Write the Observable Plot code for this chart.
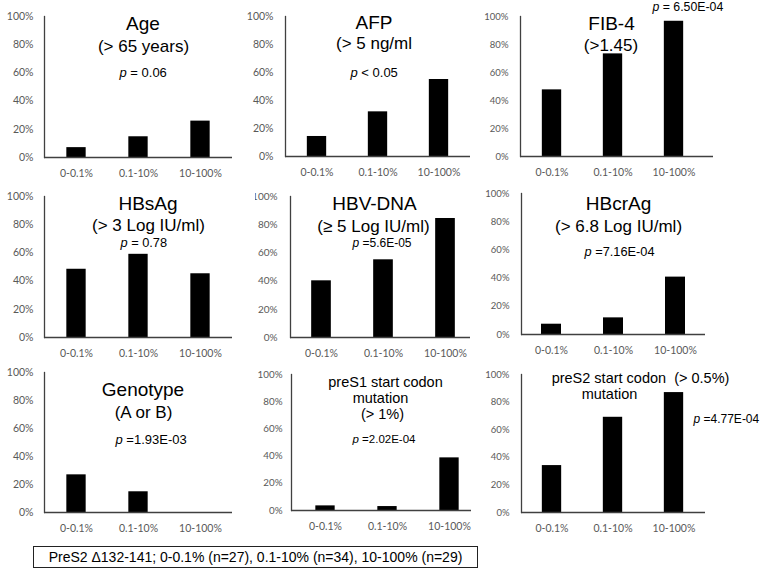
<!DOCTYPE html>
<html><head><meta charset="utf-8">
<script src="https://cdn.jsdelivr.net/npm/d3@7"></script>
<script src="https://cdn.jsdelivr.net/npm/@observablehq/plot@0.6"></script>
<style>
html,body{margin:0;padding:0;background:#fff;}
#root{position:relative;width:765px;height:573px;overflow:hidden;background:#fff;}
#root svg{position:absolute;}
#caption{position:absolute;left:33px;top:546px;width:445px;height:22px;box-sizing:border-box;border:1px solid #222;font:14px "Liberation Sans",Arial,sans-serif;color:#000;display:flex;align-items:center;justify-content:center;white-space:nowrap;}
</style></head><body><div id="root"></div>
<script>
// ---- data ----
const categories = ["0-0.1%", "0.1-10%", "10-100%"];
const yTicks = [0, 0.2, 0.4, 0.6, 0.8, 1];

const ageValues = [0.07, 0.147, 0.258];
const afpValues = [0.143, 0.319, 0.55];
const fib4Values = [0.476, 0.733, 0.966];
const hbsagValues = [0.484, 0.59, 0.452];
const hbvdnaValues = [0.402, 0.551, 0.844];
const hbcragValues = [0.073, 0.118, 0.407];
const genotypeValues = [0.269, 0.148, 0];
const preS1Values = [0.034, 0.029, 0.387];
const preS2Values = [0.34, 0.69, 0.869];

const panelTitles = [
  ["Age", "(> 65 years)"],
  ["AFP", "(> 5 ng/ml"],
  ["FIB-4", "(>1.45)"],
  ["HBsAg", "(> 3 Log IU/ml)"],
  ["HBV-DNA", "(\u2265 5 Log IU/ml)"],
  ["HBcrAg", "(> 6.8 Log IU/ml)"],
  ["Genotype", "(A or B)"],
  ["preS1 start codon", "mutation", "(> 1%)"],
  ["preS2 start codon  (> 0.5%)", "mutation"]
];
const pLabels = ["= 0.06", "< 0.05", "= 6.50E-04", "= 0.78", "=5.6E-05", "=7.16E-04", "=1.93E-03", "=2.02E-04", "=4.77E-04"];
const captionText = "PreS2 \u0394132-141; 0-0.1% (n=27), 0.1-10% (n=34), 10-100% (n=29)";

const panelValues = [ageValues, afpValues, fib4Values, hbsagValues, hbvdnaValues, hbcragValues, genotypeValues, preS1Values, preS2Values];

// ---- layout (pixel geometry of each pasted panel) ----
const layout = [
  {left:0,   top:0,   width:240, height:182, x0:44,  x1:232, bx:[44,232],  yTop:16,  yBot:157, yFont:10.5, yPad:11, lines:[[142.5,23,19],[143,46,17]], p:[119,72,13]},
  {left:240, top:0,   width:245, height:182, x0:285, x1:470, bx:[285,470], yTop:16,  yBot:156, yFont:10.5, yPad:12, lines:[[373.5,22,19],[373.5,43,17]], p:[350,72,13]},
  {left:478, top:0,   width:287, height:182, x0:520, x1:713, bx:[520,705], yTop:16,  yBot:156, yFont:9.5,  yPad:12, lines:[[611,23,19],[610.5,45,17]], p:[652,7,12.3]},
  {left:0,   top:182, width:240, height:180, x0:44,  x1:232, bx:[44,232],  yTop:196, yBot:337, yFont:10.5, yPad:11, lines:[[147.5,203,19],[148,225,17]], p:[120,242,12.8]},
  {left:255, top:182, width:230, height:180, x0:290, x1:470, bx:[289,476], yTop:196, yBot:337, yFont:10,   yPad:13, lines:[[374,203,19],[373,226,17]], p:[352,243,12]},
  {left:478, top:182, width:287, height:180, x0:521, x1:705, bx:[520,706], yTop:193, yBot:334, yFont:9.5,  yPad:12, lines:[[618,203,19],[618,226,17]], p:[584,251,12.8]},
  {left:0,   top:362, width:240, height:178, x0:44,  x1:232, bx:[44,232],  yTop:372, yBot:512, yFont:10.5, yPad:11, lines:[[142.5,389,19],[143,412,17]], p:[115,439,13]},
  {left:245, top:362, width:240, height:178, x0:291, x1:471, bx:[293,481], yTop:374, yBot:510, yFont:9.8,  yPad:9,  lines:[[385,382,14.5],[380,398,14.5],[382,414,14.5]], p:[352,439,11.5]},
  {left:478, top:362, width:287, height:178, x0:521, x1:705, bx:[520,705], yTop:374, yBot:512, yFont:9.5,  yPad:12, lines:[[640,378,14.5],[609,394,14.5]], p:[693,419,12]}
];

const titleFont = '"Liberation Sans", Arial, sans-serif';
const tickFont = 'Lato, "Open Sans", sans-serif';
const axisColor = "#404040";
const tickColor = "#595959";

const ctx = document.createElement("canvas").getContext("2d");
function textWidth(s, font) { ctx.font = font; return ctx.measureText(s).width; }

const root = document.getElementById("root");

panelValues.forEach((values, i) => {
  const L = layout[i];
  const mL = L.x0 - L.left, mR = L.left + L.width - L.x1;
  const mT = L.yTop - L.top, mB = L.top + L.height - L.yBot;
  const bw = (L.bx[1] - L.bx[0]) / categories.length;
  const inset = (bw - 20) / 2;
  const rows = categories.map((c, j) => ({category: c, value: values[j]}));

  const titleMarks = panelTitles[i].map((t, k) => {
    const [cx, cy, fs] = L.lines[k];
    return Plot.text([{t}], {
      text: "t", frameAnchor: "top-left", dx: cx - L.x0, dy: cy - L.yTop,
      fontSize: fs, fontFamily: titleFont, fill: "#000",
      textAnchor: "middle", lineAnchor: "middle"
    });
  });
  const [px, py, pfs] = L.p;
  const pw = textWidth("p", `italic ${pfs}px ${titleFont}`);
  const pMarks = [
    Plot.text([{t: "p"}], {text: "t", frameAnchor: "top-left", dx: px - L.x0, dy: py - L.yTop,
      fontSize: pfs, fontFamily: titleFont, fontStyle: "italic", fill: "#000", textAnchor: "start", lineAnchor: "middle"}),
    Plot.text([{t: " " + pLabels[i]}], {text: "t", frameAnchor: "top-left", dx: px + pw - L.x0, dy: py - L.yTop,
      fontSize: pfs, fontFamily: titleFont, fill: "#000", textAnchor: "start", lineAnchor: "middle"})
  ];

  const chart = Plot.plot({
    width: L.width, height: L.height,
    marginLeft: mL, marginRight: mR, marginTop: mT, marginBottom: mB,
    style: {background: "transparent", overflow: "hidden", color: tickColor},
    x: {type: "band", domain: categories, range: [L.bx[0] - L.left, L.bx[1] - L.left], padding: 0, label: null, axis: null},
    y: {domain: [0, 1], label: null, axis: null},
    marks: [
      Plot.barY(rows, {x: "category", y: "value", fill: "#000", insetLeft: inset, insetRight: inset}),
      Plot.axisY({ticks: yTicks, tickSize: 0, tickPadding: L.yPad, label: null,
        tickFormat: d => `${Math.round(d * 100)}%`, fontSize: L.yFont, fontFamily: tickFont, fill: tickColor}),
      Plot.axisX({tickSize: 0, tickPadding: 12, label: null, fontSize: 10.5, fontFamily: tickFont, fill: tickColor}),
      Plot.frame({anchor: "left", stroke: axisColor, strokeWidth: 1.3}),
      Plot.ruleY([0], {stroke: axisColor, strokeWidth: 1.3}),
      ...titleMarks,
      ...pMarks
    ]
  });
  chart.style.left = L.left + "px";
  chart.style.top = L.top + "px";
  root.appendChild(chart);
});

const cap = document.createElement("div");
cap.id = "caption";
cap.textContent = captionText;
root.appendChild(cap);
</script>
</body></html>
